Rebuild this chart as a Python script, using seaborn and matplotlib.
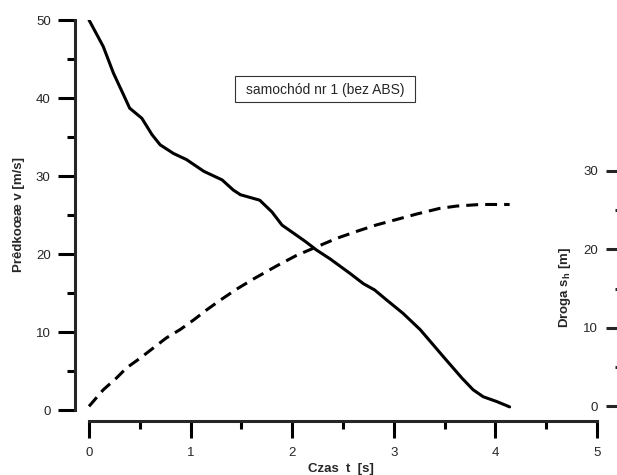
import numpy as np
import pandas as pd
import matplotlib
matplotlib.use('Agg')
import matplotlib.pyplot as plt
from matplotlib.patches import Rectangle
from matplotlib.ticker import MultipleLocator
import seaborn as sns

# predkosc v [m/s] w funkcji czasu
t_v = [0.00, 0.14, 0.24, 0.34, 0.40, 0.52, 0.62, 0.70, 0.83, 0.96, 1.13, 1.31,
       1.42, 1.49, 1.68, 1.80, 1.90, 2.01, 2.13, 2.24, 2.37, 2.57, 2.70, 2.81,
       2.93, 3.09, 3.26, 3.49, 3.67, 3.78, 3.88, 4.01, 4.14]
v = [50.0, 46.6, 43.2, 40.4, 38.7, 37.4, 35.3, 34.0, 32.9, 32.1, 30.6, 29.5,
     28.2, 27.6, 26.9, 25.4, 23.7, 22.7, 21.6, 20.5, 19.4, 17.5, 16.2, 15.4,
     14.1, 12.4, 10.3, 6.8, 4.1, 2.6, 1.7, 1.1, 0.4]

# droga hamowania s_h [m]
t_s = [0.00, 0.04, 0.14, 0.27, 0.37, 0.50, 0.63, 0.76, 0.90, 1.03, 1.16, 1.29,
       1.45, 1.63, 1.85, 2.04, 2.24, 2.44, 2.64, 2.83, 3.03, 3.23, 3.45, 3.62,
       3.85, 4.14]
s = [0.0, 0.6, 2.1, 3.6, 4.9, 6.1, 7.4, 8.7, 9.8, 11.0, 12.3, 13.5,
     14.9, 16.3, 17.9, 19.2, 20.3, 21.4, 22.3, 23.1, 23.8, 24.5, 25.2, 25.5,
     25.7, 25.7]

df_v = pd.DataFrame({'t': t_v, 'v': v})
df_s = pd.DataFrame({'t': t_s, 's': s})

sns.set_style('ticks')
plt.rcParams['font.family'] = ['Liberation Sans', 'DejaVu Sans']

fig = plt.figure(figsize=(6.17, 4.75), dpi=100)
ax = fig.add_axes([0.12156, 0.11368, 0.88817, 0.84421])
ax2 = ax.twinx()

lw = 2.2
sns.lineplot(data=df_v, x='t', y='v', ax=ax, color='black', linewidth=lw)
sns.lineplot(data=df_s, x='t', y='s', ax=ax2, color='black', linewidth=lw,
             linestyle=(0, (3.9, 2.3)))

ax.set_xlim(-0.138, 5.256)
ax.set_ylim(-1.41, 50)
ax2.set_ylim(-1.87, 49.19)

# osie
for a in (ax, ax2):
    for sp in a.spines.values():
        sp.set_visible(False)
        sp.set_linewidth(lw)
ax.spines['left'].set_visible(True)
ax.spines['left'].set_bounds(0, 50)
ax.spines['bottom'].set_visible(True)
ax.spines['bottom'].set_bounds(0, 5)

tick_fs = 9.5
ax.xaxis.set_major_locator(MultipleLocator(1))
ax.xaxis.set_minor_locator(MultipleLocator(0.5))
ax.yaxis.set_major_locator(MultipleLocator(10))
ax.yaxis.set_minor_locator(MultipleLocator(5))
ax.tick_params(which='major', length=12, width=lw, labelsize=tick_fs, color='black')
ax.tick_params(which='minor', length=6, width=lw, color='black')
ax.tick_params(axis='x', pad=7)
ax.tick_params(axis='y', pad=5.5)

# prawa os (ticki po lewej stronie, poza obrazkiem)
ax2.yaxis.set_ticks_position('left')
ax2.yaxis.set_label_position('left')
ax2.spines['left'].set_position(('axes', 1.0))
ax2.set_yticks([0, 10, 20, 30])
ax2.set_yticks([5, 15, 25], minor=True)
ax2.tick_params(which='major', length=12, width=lw, labelsize=tick_fs, pad=6)
ax2.tick_params(which='minor', length=6, width=lw)
ax2.tick_params(axis='y', which='both', right=False, labelright=False,
                left=True, labelleft=True)

bold = dict(fontsize=9.5, fontweight='bold')
ax.set_xlabel('Czas  t  [s]', va='center', **bold)
ax.xaxis.set_label_coords(0.485, -0.12)
ax.set_ylabel('Prêdkoœæ v [m/s]', va='center', **bold)
ax.yaxis.set_label_coords(-0.102, 0.514)
ax2.set_ylabel('Droga s$_\\mathregular{h}$ [m]', va='center', **bold)
ax2.yaxis.set_label_coords(0.894, 0.332)

# ramka z opisem
fig.patches.append(Rectangle((235 / 617, 1 - 102 / 475), 180 / 617, 26 / 475,
                             transform=fig.transFigure, fill=False,
                             edgecolor='#333333', linewidth=0.8))
fig.text(325 / 617, 1 - 90 / 475, 'samochód nr 1 (bez ABS)', ha='center',
         va='center', fontsize=10)

fig.savefig('out.png', dpi=100)
